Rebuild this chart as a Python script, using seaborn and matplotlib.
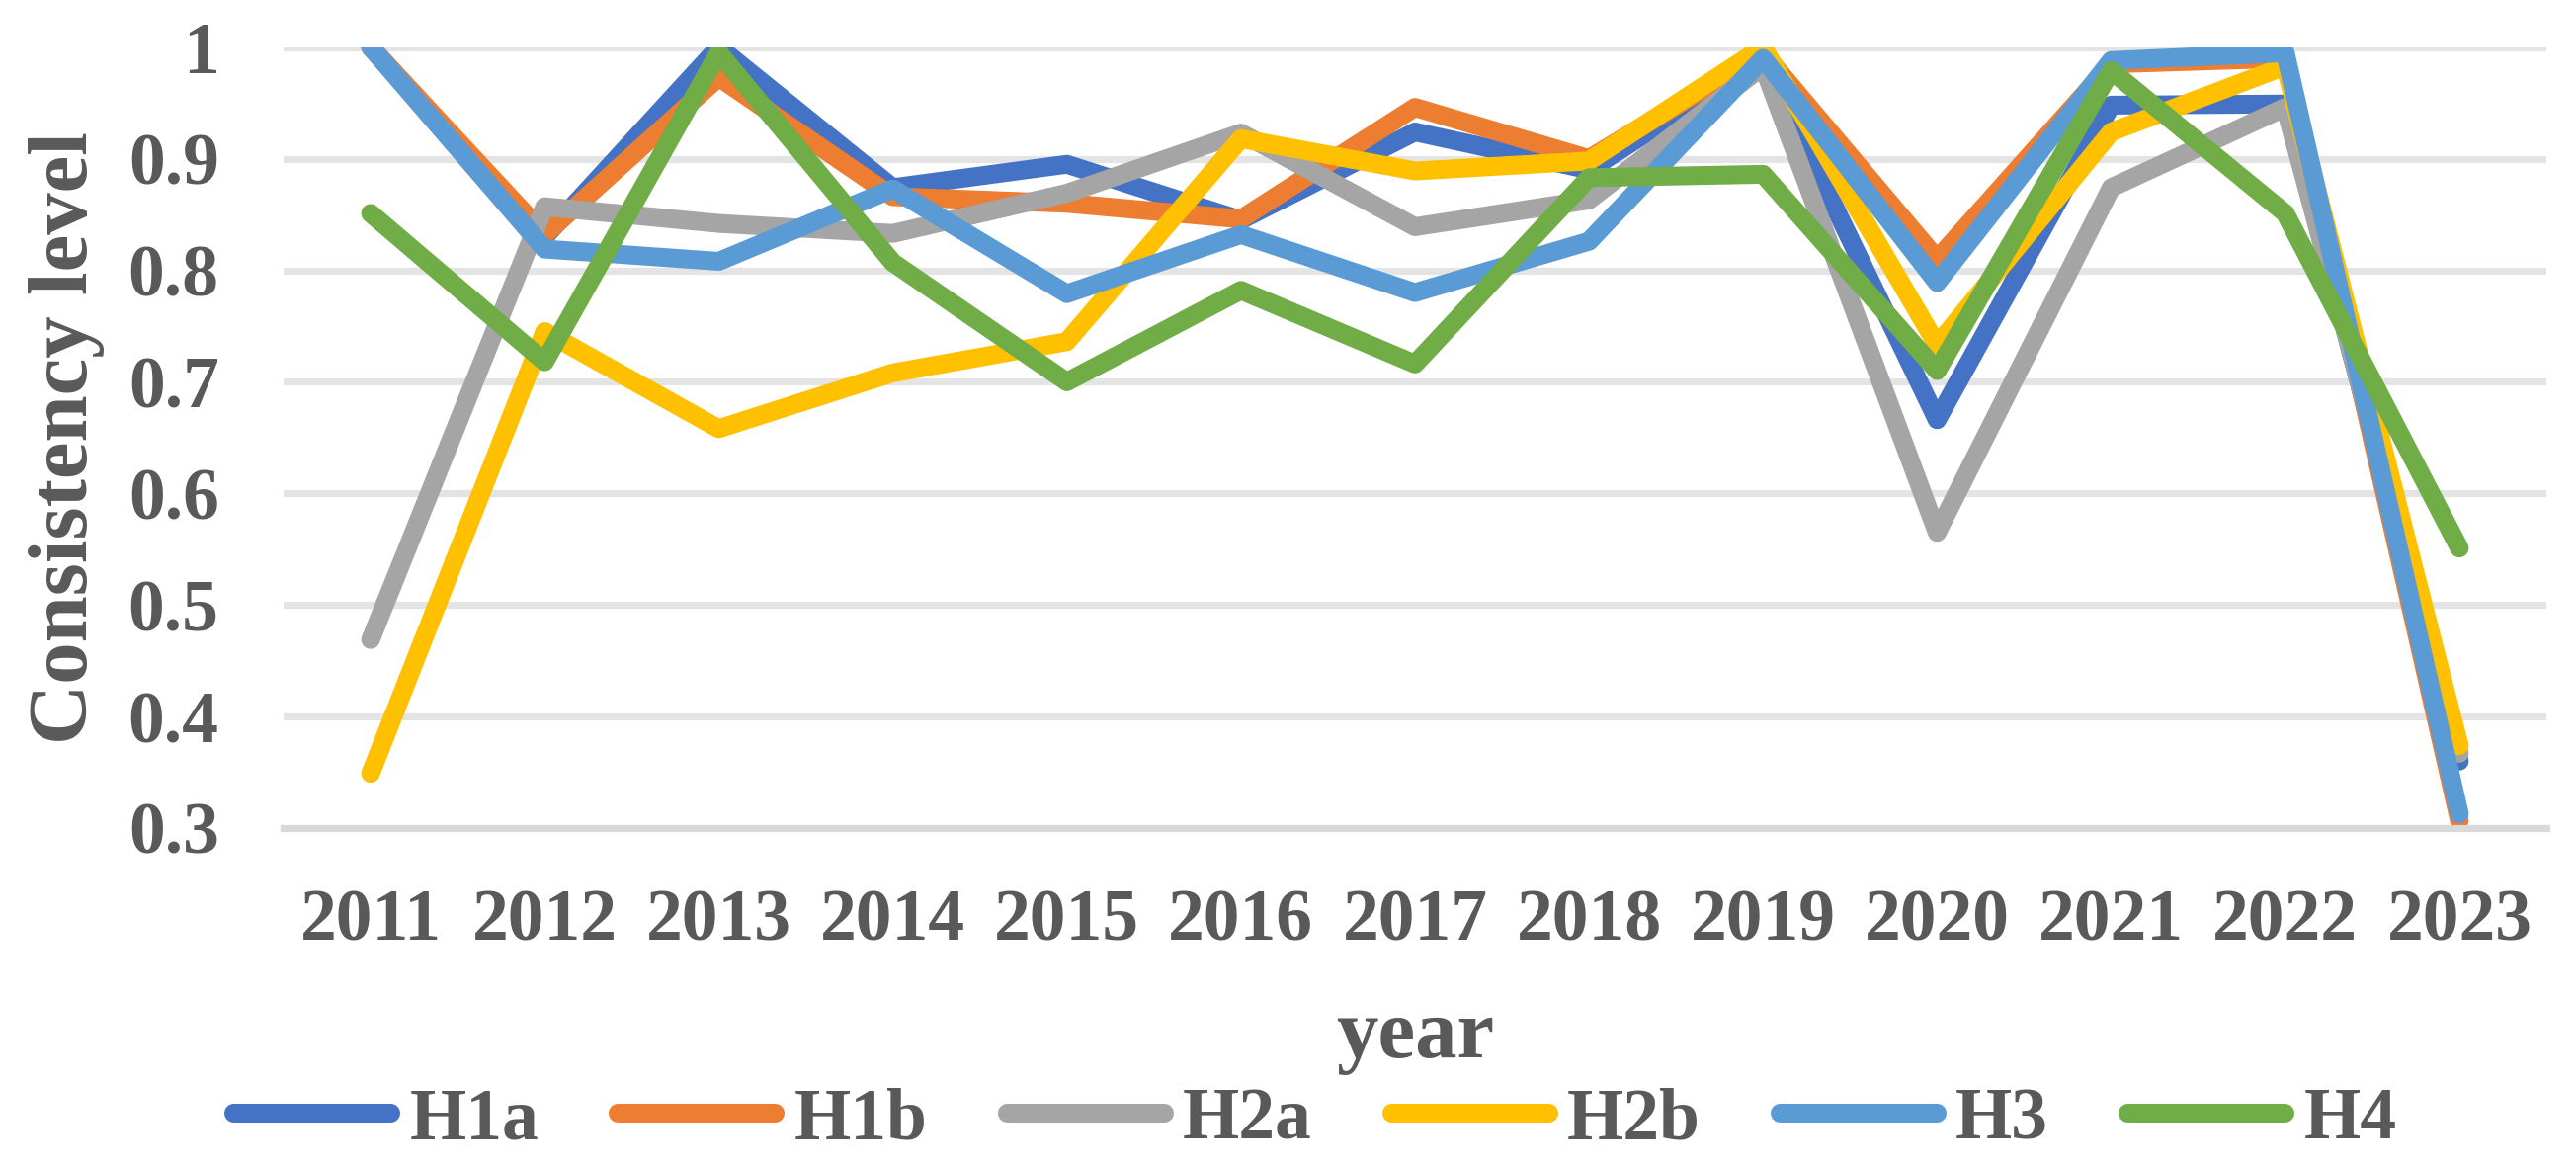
import pandas as pd
import matplotlib
matplotlib.use("Agg")
import matplotlib.pyplot as plt
import seaborn as sns

# values
years = [2011, 2012, 2013, 2014, 2015, 2016, 2017, 2018, 2019, 2020, 2021, 2022, 2023]
series_names = ["H1a", "H1b", "H2a", "H2b", "H3", "H4"]
h1a = [1.0, 0.83, 1.0, 0.874, 0.895, 0.845, 0.924, 0.89, 0.99, 0.666, 0.948, 0.949, 0.36]
h1b = [1.0, 0.832, 0.973, 0.866, 0.86, 0.846, 0.946, 0.90, 0.995, 0.81, 0.985, 0.99, 0.307]
h2a = [0.469, 0.857, 0.842, 0.833, 0.869, 0.923, 0.839, 0.863, 0.983, 0.565, 0.874, 0.946, 0.367]
h2b = [0.349, 0.745, 0.658, 0.708, 0.736, 0.918, 0.889, 0.898, 1.0, 0.733, 0.924, 0.983, 0.374]
h3 = [1.0, 0.819, 0.808, 0.873, 0.779, 0.832, 0.78, 0.826, 0.99, 0.789, 0.988, 0.995, 0.313]
h4 = [0.851, 0.718, 0.995, 0.807, 0.70, 0.782, 0.716, 0.883, 0.886, 0.71, 0.979, 0.851, 0.551]
colors = ["#4472C4", "#ED7D31", "#A5A5A5", "#FFC000", "#5B9BD5", "#70AD47"]
y_ticks = [0.3, 0.4, 0.5, 0.6, 0.7, 0.8, 0.9, 1.0]
y_tick_labels = ["0.3", "0.4", "0.5", "0.6", "0.7", "0.8", "0.9", "1"]

# long form table for seaborn
rows = []
for name, vals in zip(series_names, [h1a, h1b, h2a, h2b, h3, h4]):
    for yr, v in zip(years, vals):
        rows.append({"year": yr, "value": v, "series": name})
df = pd.DataFrame(rows)

sns.set_style("white")
plt.rcParams["font.family"] = ["Liberation Serif", "DejaVu Serif"]
plt.rcParams["font.weight"] = "bold"
plt.rcParams["lines.solid_capstyle"] = "round"
plt.rcParams["lines.solid_joinstyle"] = "round"

text_col = "#595959"
fig = plt.figure(figsize=(26.07, 11.83), dpi=100)
ax = fig.add_axes([287 / 2607, 1 - 838 / 1183, 2290 / 2607, 790.3 / 1183])

sns.lineplot(data=df, x="year", y="value", hue="series", hue_order=series_names,
             palette=colors, linewidth=13.7, errorbar=None, sort=False, ax=ax)

ax.set_xlim(2010.5, 2023.5)
ax.set_ylim(0.3, 1.0)
ax.set_xticks(years)
ax.set_xticklabels([str(y) for y in years])
ax.set_yticks(y_ticks)
ax.set_yticklabels(y_tick_labels)
ax.tick_params(axis="x", length=0, pad=44, labelsize=53, labelcolor=text_col)
ax.tick_params(axis="y", length=0, pad=47, labelsize=53, labelcolor=text_col)
for lab in ax.get_xticklabels() + ax.get_yticklabels():
    lab.set_fontweight("bold")

ax.grid(axis="y", color="#E4E4E4", linewidth=5.2)
ax.set_axisbelow(True)
for side in ["top", "left", "right"]:
    ax.spines[side].set_visible(False)
ax.spines["bottom"].set_color("#D9D9D9")
ax.spines["bottom"].set_linewidth(5.2)

ax.set_ylabel("Consistency level", fontsize=61, fontweight="bold", color=text_col)
ax.yaxis.set_label_coords(-0.079, 0.5)
ax.set_xlabel("year", fontsize=61, fontweight="bold", color=text_col)
ax.xaxis.set_label_coords(0.5, -0.219)

handles, labels = ax.get_legend_handles_labels()
ax.legend_.remove()
leg = fig.legend(handles, labels, loc="center", bbox_to_anchor=(0.5105, 0.0414),
                 ncol=6, frameon=False, fontsize=53, handlelength=2.16,
                 handletextpad=0.26, columnspacing=1.09, borderpad=0)
for t in leg.get_texts():
    t.set_color(text_col)
    t.set_fontweight("bold")

fig.savefig("out.png", dpi=100)
